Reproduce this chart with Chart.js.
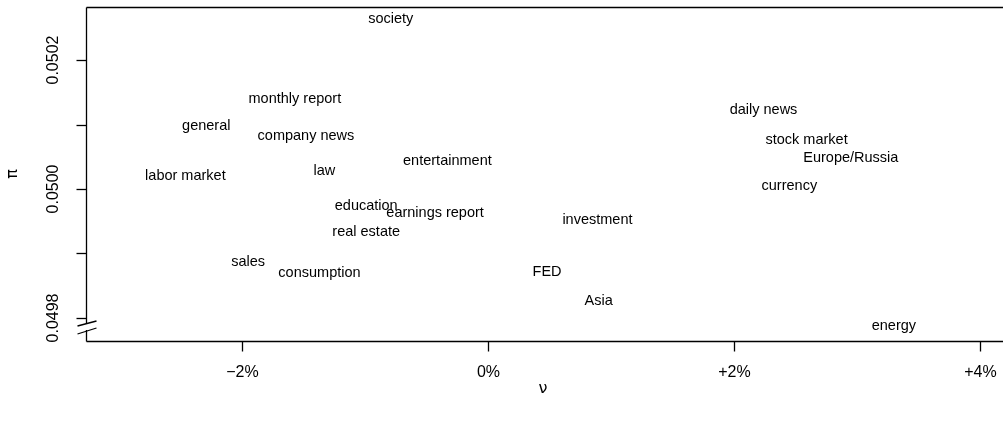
<!DOCTYPE html>
<html>
<head>
<meta charset="utf-8">
<script src="https://cdn.jsdelivr.net/npm/chart.js@4"></script>
<style>
  html, body { margin: 0; padding: 0; background: #fff; }
  #wrap { width: 1003px; height: 423px; position: relative; }
</style>
</head>
<body>
<div id="wrap"><canvas id="chart"></canvas></div>
<script>
// topic positions: nu (% deviation) vs pi
const topics = ['society', 'monthly report', 'general', 'company news', 'entertainment',
    'labor market', 'law', 'education', 'earnings report', 'real estate', 'sales',
    'consumption', 'FED', 'daily news', 'stock market', 'Europe/Russia', 'currency',
    'investment', 'Asia', 'energy'];
const nu = [-0.79, -1.57, -2.29, -1.48, -0.33,
    -2.46, -1.33, -0.99, -0.43, -0.99, -1.95,
    -1.37, 0.48, 2.24, 2.59, 2.95, 2.45,
    0.89, 0.90, 3.30];
const pi = [0.050264, 0.050140, 0.050098, 0.050082, 0.050043,
    0.050020, 0.050028, 0.049974, 0.049963, 0.049933, 0.049887,
    0.049870, 0.049871, 0.050122, 0.050076, 0.050048, 0.050005,
    0.049952, 0.049826, 0.049788];

const xTicks = [-2, 0, 2, 4];
const yTicks = [0.0498, 0.0499, 0.0500, 0.0501, 0.0502];
const yLabelled = [0.0498, 0.0500, 0.0502];
const yBreak = 0.049795;   // axis break just under the lowest labelled tick

const fmtPct = v => (v > 0 ? '+' : v < 0 ? '\u2212' : '') + Math.abs(v) + '%';

let axesPlugin = {
    id: 'rAxes',
    afterDraw(chart) {
        const ctx = chart.ctx;
        const xs = chart.scales.x, ys = chart.scales.y;
        const a = chart.chartArea;
        const left = Math.round(a.left) + 0.5, top = Math.round(a.top) + 0.5;
        const bottom = Math.round(a.bottom) + 0.5;
        ctx.save();
        ctx.strokeStyle = '#000';
        ctx.fillStyle = '#000';
        ctx.lineWidth = 1.3;

        // top and bottom frame lines
        ctx.beginPath();
        ctx.moveTo(left, top); ctx.lineTo(a.right, top);
        ctx.moveTo(left, bottom); ctx.lineTo(a.right, bottom);
        ctx.stroke();

        // left axis, broken near the bottom
        let yb = Math.round(ys.getPixelForValue(yBreak));
        ctx.beginPath();
        ctx.moveTo(left, top); ctx.lineTo(left, yb + 2);
        ctx.moveTo(left, yb + 9); ctx.lineTo(left, bottom);
        ctx.stroke();
        ctx.beginPath();
        ctx.moveTo(left - 9, yb + 5); ctx.lineTo(left + 10, yb);
        ctx.moveTo(left - 9, yb + 13); ctx.lineTo(left + 10, yb + 7);
        ctx.stroke();

        // x ticks
        ctx.font = '16px "Liberation Sans", Arial, sans-serif';
        ctx.textAlign = 'center';
        ctx.textBaseline = 'middle';
        xTicks.forEach(v => {
            let px = Math.round(xs.getPixelForValue(v)) + 0.5;
            ctx.beginPath();
            ctx.moveTo(px, bottom); ctx.lineTo(px, bottom + 10);
            ctx.stroke();
            ctx.fillText(fmtPct(v), px, 373);
        });

        // y ticks, labels turned sideways
        yTicks.forEach(v => {
            let py = Math.round(ys.getPixelForValue(v)) + 0.5;
            ctx.beginPath();
            ctx.moveTo(left - 10, py); ctx.lineTo(left, py);
            ctx.stroke();
        });
        yLabelled.forEach(v => {
            let py = ys.getPixelForValue(v);
            ctx.save();
            ctx.translate(54, py);
            ctx.rotate(-Math.PI / 2);
            ctx.fillText(v.toFixed(4), 0, 0);
            ctx.restore();
        });

        // axis titles
        ctx.font = '16px "DejaVu Sans", sans-serif';
        ctx.fillText('\u03bd', 543, 389);
        ctx.save();
        ctx.translate(13, (a.top + a.bottom) / 2);
        ctx.rotate(-Math.PI / 2);
        ctx.fillText('\u03c0', 0, 0);
        ctx.restore();

        // topic labels at each point
        ctx.font = '14.5px "Liberation Sans", Arial, sans-serif';
        chart.getDatasetMeta(0).data.forEach((pt, i) => {
            ctx.fillText(topics[i], pt.x, pt.y);
        });
        ctx.restore();
    }
};

let chart = new Chart(document.getElementById('chart'), {
    type: 'scatter',
    data: {
        datasets: [{
            data: nu.map((v, i) => ({ x: v, y: pi[i] })),
            pointRadius: 0,
            pointHoverRadius: 0
        }]
    },
    options: {
        responsive: true,
        maintainAspectRatio: false,
        animation: false,
        events: [],
        layout: { padding: { left: 86, top: 7, right: 0, bottom: 82 } },
        plugins: { legend: { display: false }, tooltip: { enabled: false } },
        scales: {
            x: { type: 'linear', display: false, min: -3.268, max: 4.187 },
            y: { type: 'linear', display: false, min: 0.0497643, max: 0.0502822 }
        }
    },
    plugins: [axesPlugin]
});
</script>
</body>
</html>
